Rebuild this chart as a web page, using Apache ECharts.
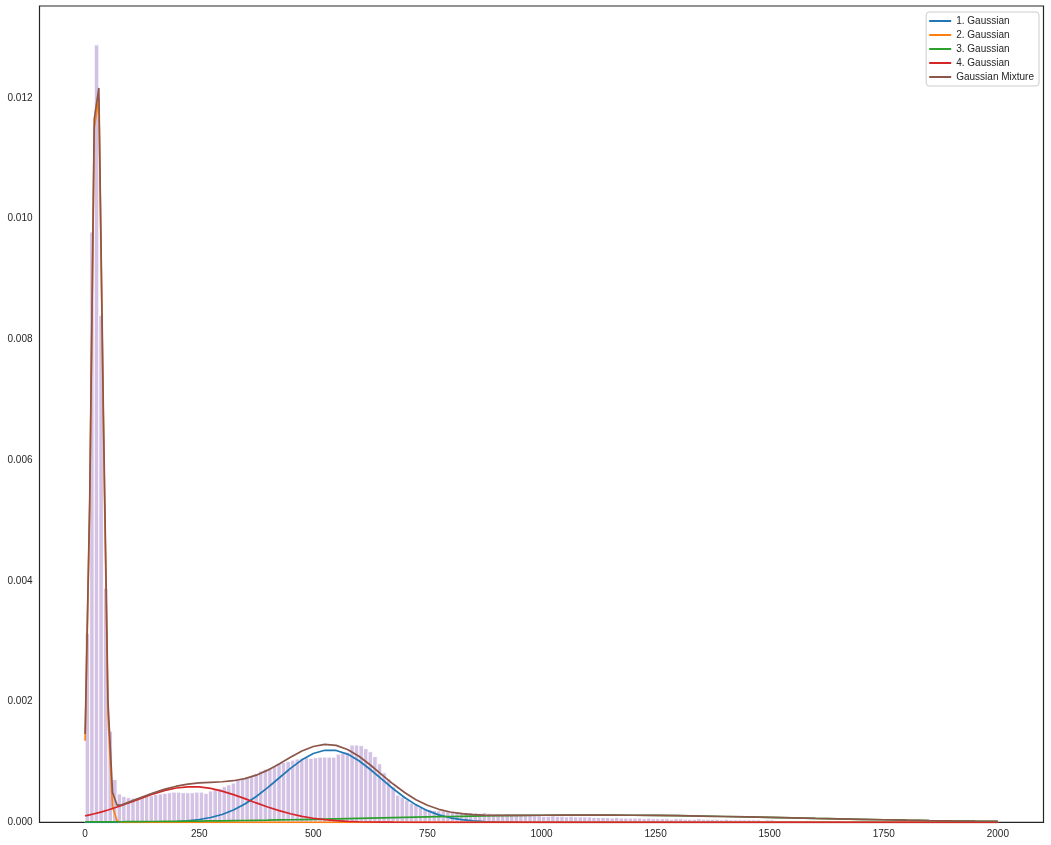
<!DOCTYPE html>
<html><head><meta charset="utf-8">
<script src="https://cdn.jsdelivr.net/npm/echarts@6/dist/echarts.min.js"></script>
<style>html,body{margin:0;padding:0;background:#fff}#chart{width:1051px;height:845px}</style>
</head><body><div id="chart"></div>
<script>
// ---- data ----
const binWidth = 10;
const histValues = [
0.00313,0.00978,0.01288,0.0084,0.00388,0.00151,0.00071,0.00047,0.00043,0.00041,
0.0004,0.00041,0.00041,0.00043,0.00044,0.00046,0.00047,0.00048,0.00049,0.0005,
0.0005,0.00049,0.00049,0.00049,0.0005,0.0005,0.00048,0.00052,0.00054,0.00056,
0.00059,0.00062,0.00065,0.0007,0.00072,0.00075,0.00077,0.00081,0.00085,0.00088,
0.0009,0.00093,0.00098,0.00099,0.00101,0.00103,0.00105,0.00106,0.00107,0.00106,
0.00107,0.00108,0.00108,0.00108,0.00108,0.00113,0.00115,0.00116,0.00128,0.00128,
0.00127,0.00122,0.00117,0.00109,0.00097,0.00082,0.00072,0.00059,0.00045,0.00042,
0.00037,0.00032,0.0003,0.00025,0.00023,0.00021,0.0002,0.00019,0.00019,0.00018,
0.00017,0.00017,0.00017,0.00016,0.00016,0.00016,0.00015,0.00016,0.00015,0.00014,
0.00014,0.00013,0.00014,0.00013,0.00013,0.00012,0.00012,0.00012,0.00011,0.00011,
0.0001,0.0001,0.00011,0.0001,0.0001,0.00009,0.0001,0.00009,0.00009,0.00009,
0.00009,0.00008,0.00008,0.00008,0.00008,0.00007,0.00008,0.00007,0.00007,0.00007,
0.00007,0.00007,0.00006,0.00007,0.00006,0.00006,0.00006,0.00006,0.00005,0.00006,
0.00006,0.00005,0.00005,0.00005,0.00006,0.00005,0.00005,0.00005,0.00005,0.00004,
0.00005,0.00004,0.00004,0.00004,0.00004,0.00004,0.00004,0.00004,0.00003,0.00004,
0.00004,0.00003,0.00003,0.00003,0.00003,0.00003,0.00003,0.00003,0.00003,0.00003,
0.00002,0.00003,0.00002,0.00002,0.00002,0.00002,0.00002,0.00002,0.00002,0.00002,
0.00002,0.00002,0.00002,0.00002,0.00001,0.00002,0.00002,0.00001,0.00001,0.00001,
0.00001,0.000015,0.00001,0.00001,0.00001,0.000015,0.00001,0.00001,0.00001,0.00001,
0.00001,0.00001,0.00001,0.00001,0.00001,0.00001,0.00001,0.00001,0.00001,0.00001
];
const curveX = [0,10,20,30,40,50,60,70,80,90,100,
125,150,175,200,225,250,275,300,325,350,375,400,425,450,475,500,525,550,575,600,625,650,675,700,725,750,775,800,825,850,875,900,
950,1000,1050,1100,1150,1200,1250,1300,1350,1400,1450,1500,1550,1600,1650,1700,1750,1800,1850,1900,1950,2000];
const gauss1 = [0,0,0,0,0,0,0,0,0.0000002,0.0000004,0.0000006,
0.0000014,0.0000032,0.0000067,0.0000133,0.0000254,0.000046,0.0000794,0.00013,0.000203,0.000302,0.000427,0.000574,0.000734,0.000894,0.001035,0.00114,0.001194,0.00119,0.00113,0.00102,0.000875,0.000715,0.000556,0.000411,0.000289,0.000193,0.000123,0.0000746,0.000043,0.0000236,0.0000123,0.0000061,
0.0000013,0.0000002,0,0,0,0,0,0,0,0,0,0,0,0,0,0,0,0,0,0,0,0];
const gauss2 = [0.00135,0.0052,0.0115,0.012,0.0066,0.0018,0.00026,0.00002,0,0,0,
0,0,0,0,0,0,0,0,0,0,0,0,0,0,0,0,0,0,0,0,0,0,0,0,0,0,0,0,0,0,0,0,
0,0,0,0,0,0,0,0,0,0,0,0,0,0,0,0,0,0,0,0,0,0];
const gauss3 = [0.0000061,0.0000064,0.0000067,0.0000071,0.0000075,0.0000079,0.0000083,0.0000087,0.0000092,0.0000097,0.0000102,
0.0000115,0.0000129,0.0000145,0.0000162,0.0000181,0.0000202,0.0000223,0.0000247,0.0000272,0.0000299,0.0000328,0.0000358,0.000039,0.0000423,0.0000457,0.0000493,0.000053,0.0000569,0.0000608,0.0000647,0.0000687,0.0000728,0.0000768,0.0000808,0.0000848,0.0000887,0.0000924,0.0000961,0.0000996,0.000103,0.000106,0.000109,
0.0001135,0.000117,0.000119,0.00012,0.000119,0.000117,0.0001135,0.000109,0.000103,0.0000961,0.0000887,0.0000808,0.0000728,0.0000647,0.0000569,0.0000493,0.0000423,0.0000358,0.0000299,0.0000247,0.0000202,0.0000162];
const gauss4 = [0.000107,0.000123,0.000141,0.00016,0.000181,0.000204,0.000228,0.000254,0.00028,0.000307,0.000335,
0.000405,0.000472,0.000528,0.000568,0.000588,0.000586,0.000561,0.000517,0.000459,0.000392,0.000321,0.000254,0.000193,0.000141,0.000099,0.000067,0.0000435,0.0000272,0.0000164,0.0000095,0.0000053,0.0000028,0.0000015,0.0000007,0.0000003,0.0000001,0,0,0,0,0,0,
0,0,0,0,0,0,0,0,0,0,0,0,0,0,0,0,0,0,0,0,0,0];
const mixture = [0.001463,0.005329,0.011648,0.012167,0.006789,0.002012,0.000496,0.000283,0.000289,0.000317,0.000346,
0.000418,0.000488,0.000549,0.000598,0.000632,0.000652,0.000663,0.000672,0.000689,0.000724,0.000781,0.000864,0.000966,0.001077,0.00118,0.001256,0.00129,0.001274,0.001207,0.001094,0.000949,0.000791,0.000634,0.000493,0.000374,0.000282,0.000215,0.000171,0.000143,0.000127,0.000118,0.000115,
0.000115,0.000117,0.000119,0.00012,0.000119,0.000117,0.0001135,0.000109,0.000103,0.0000961,0.0000887,0.0000808,0.0000728,0.0000647,0.0000569,0.0000493,0.0000423,0.0000358,0.0000299,0.0000247,0.0000202,0.0000162];
const xTicks = [0,250,500,750,1000,1250,1500,1750,2000];
const yTicks = [0,0.002,0.004,0.006,0.008,0.010,0.012];
const seriesNames = ['1. Gaussian','2. Gaussian','3. Gaussian','4. Gaussian','Gaussian Mixture'];
const curves = [gauss1, gauss2, gauss3, gauss4, mixture];
const colors = ['#1f77b4','#ff7f0e','#2ca02c','#d62728','#8c564b'];

// ---- chart ----
const FONT = "'Liberation Sans', Arial, sans-serif";
const chart = echarts.init(document.getElementById('chart'), null, {renderer:'canvas'});
const lineSeries = curves.map((arr, k) => ({
  type: 'line', name: seriesNames[k],
  data: curveX.map((x, i) => [x, arr[i]]),
  showSymbol: false, symbol: 'none',
  lineStyle: {color: colors[k], width: 1.7},
  itemStyle: {color: colors[k]},
  z: 3 + k, animation: false
}));
chart.setOption({
  animation: false,
  backgroundColor: '#ffffff',
  grid: {left: 39.5, right: 7.5, top: 6, bottom: 22.7, show: true, borderColor: '#262626', borderWidth: 1.2, backgroundColor: 'transparent'},
  xAxis: {
    type: 'value', min: -100, max: 2100,
    axisLine: {show: false}, axisTick: {show: false}, splitLine: {show: false},
    axisLabel: {customValues: xTicks, color: '#262626', fontSize: 10, fontFamily: FONT, margin: 7,
      formatter: v => String(v)}
  },
  yAxis: {
    type: 'value', min: 0, max: 0.013524,
    axisLine: {show: false}, axisTick: {show: false}, splitLine: {show: false},
    axisLabel: {customValues: yTicks, color: '#262626', fontSize: 10, fontFamily: FONT, margin: 7,
      formatter: v => v.toFixed(3)}
  },
  legend: {
    data: seriesNames, orient: 'vertical', right: 12, top: 12,
    icon: 'rect', itemWidth: 22, itemHeight: 2, itemGap: 2,
    backgroundColor: '#ffffff', borderColor: '#cccccc', borderWidth: 1, borderRadius: 3,
    padding: [3, 5, 3, 3],
    textStyle: {fontSize: 10, color: '#262626', fontFamily: FONT, lineHeight: 12},
    selectedMode: false
  },
  series: [{
    type: 'custom', name: 'hist',
    data: histValues.map((v, i) => [i * binWidth, (i + 1) * binWidth, v]),
    encode: {x: [0, 1], y: 2},
    renderItem: (params, api) => {
      const p0 = api.coord([api.value(0), api.value(2)]);
      const p1 = api.coord([api.value(1), 0]);
      return {type: 'rect', shape: {x: p0[0], y: p0[1], width: p1[0] - p0[0], height: p1[1] - p0[1]},
        style: {fill: '#d4c2e5', stroke: '#ffffff', lineWidth: 0.9}};
    },
    z: 1
  }].concat(lineSeries)
});
</script></body></html>
